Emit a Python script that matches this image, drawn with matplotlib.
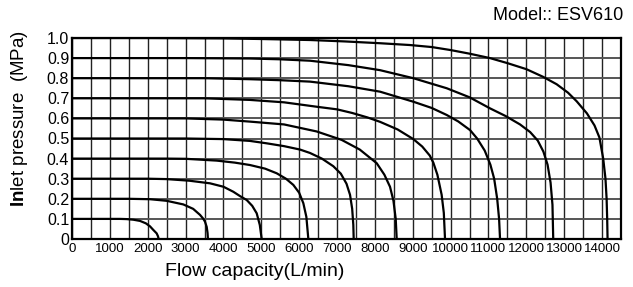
import matplotlib
matplotlib.use("Agg")
import matplotlib.pyplot as plt
from matplotlib.ticker import MultipleLocator
from matplotlib import font_manager

# ---- data ----
pressures = [0.1, 0.2, 0.3, 0.4, 0.5, 0.6, 0.7, 0.8, 0.9, 1.0]

flow_01 = [0, 1268, 1444, 1620, 1796, 1950, 2060, 2148, 2236, 2270, 2290]
pres_01 = [0.1, 0.1, 0.099, 0.096, 0.09, 0.078, 0.063, 0.045, 0.028, 0.014, 0.0]

flow_02 = [0, 1500, 2060, 2500, 2940, 3200, 3381, 3470, 3513, 3558, 3580, 3590]
pres_02 = [0.2, 0.2, 0.198, 0.19, 0.172, 0.15, 0.12, 0.1, 0.086, 0.06, 0.03, 0.0]

flow_03 = [0, 2000, 2500, 3100, 3645, 4000, 4261, 4450, 4614, 4760, 4878, 4960, 5010]
pres_03 = [0.3, 0.3, 0.298, 0.29, 0.277, 0.26, 0.235, 0.212, 0.194, 0.165, 0.128, 0.07, 0.0]

flow_04 = [0, 2500, 3000, 3822, 4300, 4701, 5100, 5406, 5650, 5846, 6000, 6110, 6190, 6242]
pres_04 = [0.4, 0.4, 0.399, 0.39, 0.38, 0.368, 0.35, 0.327, 0.30, 0.269, 0.23, 0.178, 0.11, 0.0]

flow_05 = [0, 3000, 4000, 4700, 5143, 5600, 6022, 6286, 6600, 6902, 7100, 7250, 7343, 7400, 7430, 7440]
pres_05 = [0.5, 0.5, 0.497, 0.488, 0.476, 0.462, 0.445, 0.428, 0.40, 0.362, 0.325, 0.275, 0.22, 0.15, 0.07, 0.0]

flow_06 = [0, 3000, 4000, 4700, 5600, 6463, 7123, 7600, 8048, 8250, 8399, 8490, 8550, 8576]
pres_06 = [0.6, 0.6, 0.594, 0.584, 0.57, 0.535, 0.493, 0.445, 0.377, 0.32, 0.26, 0.19, 0.10, 0.0]

flow_07 = [0, 3500, 4700, 5600, 6463, 7000, 7400, 7800, 8135, 8600, 9015, 9250, 9450, 9543, 9650, 9763, 9820, 9852]
pres_07 = [0.7, 0.7, 0.692, 0.68, 0.658, 0.645, 0.627, 0.605, 0.583, 0.545, 0.497, 0.46, 0.415, 0.38, 0.32, 0.22, 0.13, 0.0]

flow_08 = [0, 3500, 4700, 5500, 6286, 7300, 8135, 9015, 9500, 9897, 10200, 10512, 10700, 10900, 11050, 11150, 11230, 11280, 11305]
pres_08 = [0.8, 0.8, 0.795, 0.79, 0.783, 0.76, 0.733, 0.683, 0.652, 0.617, 0.585, 0.542, 0.50, 0.44, 0.37, 0.30, 0.20, 0.10, 0.0]

flow_09 = [0, 3000, 4700, 5500, 6286, 7300, 8135, 9015, 9897, 10500, 11040, 11450, 11833, 12100, 12300, 12450, 12560, 12640, 12690, 12710]
pres_09 = [0.9, 0.9, 0.898, 0.894, 0.887, 0.865, 0.84, 0.80, 0.75, 0.705, 0.65, 0.612, 0.57, 0.532, 0.49, 0.435, 0.37, 0.28, 0.17, 0.0]

flow_10 = [0, 2000, 4000, 5000, 6286, 7200, 8135, 8927, 9500, 10000, 10500, 11040, 11500, 12000, 12440,
           12800, 13100, 13330, 13600, 13800, 13930, 14030, 14090, 14120, 14135, 14145]
pres_10 = [1.0, 1.0, 0.998, 0.995, 0.99, 0.983, 0.974, 0.965, 0.955, 0.94, 0.922, 0.90, 0.875, 0.845, 0.807,
           0.77, 0.728, 0.685, 0.625, 0.565, 0.505, 0.40, 0.30, 0.20, 0.10, 0.0]

curves = [(flow_01, pres_01), (flow_02, pres_02), (flow_03, pres_03), (flow_04, pres_04),
          (flow_05, pres_05), (flow_06, pres_06), (flow_07, pres_07), (flow_08, pres_08),
          (flow_09, pres_09), (flow_10, pres_10)]

x_ticks = [0, 1000, 2000, 3000, 4000, 5000, 6000, 7000, 8000, 9000, 10000, 11000, 12000, 13000, 14000]
x_tick_labels = [str(v) for v in x_ticks]
y_ticks = [0, 0.1, 0.2, 0.3, 0.4, 0.5, 0.6, 0.7, 0.8, 0.9, 1.0]
y_tick_labels = ["0", "0.1", "0.2", "0.3", "0.4", "0.5", "0.6", "0.7", "0.8", "0.9", "1.0"]

# ---- fonts ----
installed = {f.name for f in font_manager.fontManager.ttflist}
narrow = "Liberation Sans Narrow" if "Liberation Sans Narrow" in installed else "Liberation Sans"
main_font = "Liberation Sans"
plt.rcParams["mathtext.fontset"] = "custom"
plt.rcParams["mathtext.bf"] = "Liberation Sans:bold"
plt.rcParams["mathtext.rm"] = "Liberation Sans"

W, H = 633, 287
fig = plt.figure(figsize=(W / 100, H / 100), dpi=100)
ax = fig.add_axes([72 / W, 1 - 239 / H, (621 - 72) / W, (239 - 38) / H])

ax.set_xlim(0, 14500)
ax.set_ylim(0, 1.0)

ax.xaxis.set_minor_locator(MultipleLocator(500))
ax.grid(which="both", axis="x", color="#222222", linewidth=1.0)
ax.grid(which="both", axis="y", color="#555555", linewidth=1.4)
ax.tick_params(which="both", length=0)
ax.set_axisbelow(True)

for fl, pr in curves:
    ax.plot(fl, pr, color="black", linewidth=1.6, solid_joinstyle="round", zorder=3)

for s in ax.spines.values():
    s.set_linewidth(1.6)
    s.set_color("black")
    s.set_zorder(4)

ax.set_xticks(x_ticks)
ax.set_xticklabels(x_tick_labels, fontfamily=narrow, fontsize=9.5)
ax.set_yticks(y_ticks)
ax.set_yticklabels(y_tick_labels, fontfamily=main_font, fontsize=11.5)
ax.tick_params(axis="x", pad=3)
ax.tick_params(axis="y", pad=2)

fig.text(255 / W, 1 - 271 / H, "Flow capacity(L/min)", ha="center", va="center",
         fontfamily=main_font, fontsize=14)
fig.text(20 / W, 1 - 119 / H, r"$\mathbf{In}$let pressure  (MPa)", ha="center", va="center",
         rotation=90, fontfamily=main_font, fontsize=13.5)
fig.text(623 / W, 1 - 16 / H, "Model:: ESV610", ha="right", va="center",
         fontfamily=main_font, fontsize=13)

fig.savefig("out.png", dpi=100)
